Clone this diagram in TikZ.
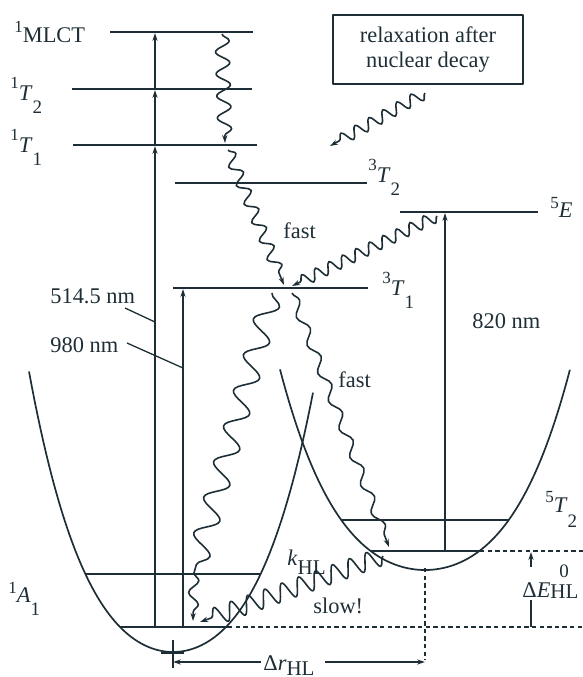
\documentclass[tikz,border=0pt]{standalone}
\usepackage{fontspec}
\setmainfont{Liberation Serif}
\usetikzlibrary{decorations.pathmorphing,arrows.meta}
\definecolor{ink}{HTML}{1E2E36}
\newcommand{\psup}[2][6pt]{\raisebox{#1}{\fontsize{8.5}{9}\selectfont #2}}
\newcommand{\psub}[2][-6.5pt]{\raisebox{#1}{\fontsize{9.5}{10}\selectfont #2}}
\newcommand{\hlsub}[1][-4.5pt]{\raisebox{#1}{\fontsize{10.5}{11}\selectfont HL}}
\begin{document}
\begin{tikzpicture}[x=0.5pt,y=-0.5pt,line join=round,
  every node/.style={text=ink,inner sep=0pt,font=\fontsize{11.2}{12.5}\selectfont},
  lbl/.style={anchor=base west},
  lvl/.style={draw=ink,line width=1.1pt},
  pes/.style={draw=ink,line width=0.85pt},
  thn/.style={draw=ink,line width=0.65pt},
  dsh/.style={draw=ink,line width=0.75pt,dash pattern=on 2.2pt off 1.6pt},
  arr/.style={draw=ink,line width=0.75pt,-{Stealth[length=4pt,width=2.6pt]}},
  wv/.style n args={2}{draw=ink,line width=0.8pt,decorate,
     decoration={snake,amplitude=#1,segment length=#2,post length=2.5pt},
     -{Stealth[length=4pt,width=2.6pt]}}]
\useasboundingbox (0,0) rectangle (583,677);

% energy levels
\draw[lvl] (110,32) -- (253,32);
\draw[lvl] (72,89) -- (252,89);
\draw[lvl] (73,145) -- (257,145);
\draw[lvl] (175,183) -- (367,183);
\draw[lvl] (400,212) -- (538,212);
\draw[lvl] (173,288) -- (368,288);

% 1A1 potential
\draw[pes] plot[domain=-1.44:1.40,samples=100] ({173+100*\x},{652-81.8*\x*\x-25.78*\x*\x*\x*\x});
\draw[lvl] (85,574) -- (261,574);
\draw[lvl] (120,627) -- (228,627);
% 5T2 potential
\draw[pes] plot[domain=-1.45:1.45,samples=100] ({425+100*\x},{570-59.25*\x*\x-17.2*\x*\x*\x*\x});
\draw[lvl] (342,520) -- (508,520);
\draw[lvl] (371,551) -- (480,551);

% dashed guides
\draw[dsh] (480,551) -- (583,551);
\draw[dsh] (228,627) -- (583,627);
\draw[dsh] (425,568) -- (425,660);

% bottom tick
\draw[ink,line width=1.3pt] (161,653) -- (184,653);
\draw[thn] (173,640) -- (173,668);

% vertical transitions
\draw[arr] (155,627) -- (155,146);
\draw[arr] (155,146) -- (155,90);
\draw[arr] (155,90) -- (155,33);
\draw[arr] (183,627) -- (183,289);
\draw[arr] (445,551) -- (445,213);

% labels
\node[lbl] (L1) at (14,42) {\psup[5pt]{1}MLCT};
\node[lbl] (L2) at (10,100) {\psup{1}\textit{T}\psub{2}};
\node[lbl] (L3) at (10,152) {\psup{1}\textit{T}\psub{1}};
\node[lbl] (L4) at (368,182) {\psup{3}\textit{T}\psub{2}};
\node[lbl] (L5) at (550,217) {\psup[4.5pt]{5}\textit{E}};
\node[lbl] (L6) at (382,295) {\psup{3}\textit{T}\psub{1}};
\node[lbl] (L7) at (545,512) {\psup[5pt]{5}\textit{T}\psub[-7.5pt]{2}};
\node[lbl] (L8) at (8,602) {\psup[4.5pt]{1}\textit{A}\psub{1}};
\node[lbl] (fast1) at (283,238) {fast};
\node[lbl] (fast2) at (338,387) {fast};
\node[lbl] (slow) at (313,613) {slow!};
\node[lbl] (n514) at (50,303) {514.5 nm};
\node[lbl] (n980) at (50,352) {980 nm};
\node[lbl] (n820) at (472,328) {820 nm};
\node[lbl] (khl) at (287,565) {\textit{k}\hlsub};
\node[lbl] (dE) at (522,597) {Δ\textit{E}\rlap{\raisebox{10pt}{\fontsize{9.5}{10}\selectfont\hspace{4.5pt}0}}\hlsub[-0.5pt]};
\node[lbl] (dr) at (263,670) {Δ\textit{r}\hlsub[-2.5pt]};
\node[draw=ink,line width=0.9pt,minimum width=95pt,minimum height=34.5pt,align=center] (box) at (428,49.5) {relaxation after\\nuclear decay};

% leaders
\coordinate (a514) at (155,322);
\coordinate (a980) at (183,368);
\coordinate (s514) at (125,308);
\coordinate (s980) at (127,343);
\draw[thn] (s514) -- (a514);
\draw[thn] (s980) -- (a980);

% Delta E and Delta r arrows
\coordinate (dEt) at (531,552);
\coordinate (dEb) at (531,627);
\draw[arr] (531,567) -- (dEt);
\draw[thn] (531,600) -- (dEb);
\coordinate (drl) at (173,662);
\coordinate (drr) at (425,662);
\draw[arr] (261,662) -- (drl);
\draw[arr] (325,662) -- (drr);

% wavy relaxations
\coordinate (m0) at (222,34);  \coordinate (m1) at (225,143);
\coordinate (t0) at (228,150); \coordinate (t1) at (284,285);
\coordinate (b0) at (425,93);  \coordinate (b1) at (330,146);
\coordinate (e0) at (437,216); \coordinate (e1) at (292,286);
\coordinate (f0) at (272,293); \coordinate (f1) at (194,573); \coordinate (f2) at (193,621);
\coordinate (g0) at (292,293); \coordinate (g1) at (389,547);
\coordinate (k0) at (383,556); \coordinate (k1) at (200,622);
\draw[wv={3.5pt}{11pt}] (m0) -- (m1);
\draw[wv={3pt}{10pt}] (t0) -- (t1);
\draw[wv={3pt}{8pt}] (b0) -- (b1);
\draw[wv={3pt}{7.5pt}] (e0) -- (e1);
\draw[draw=ink,line width=0.8pt,decorate,decoration={snake,amplitude=5.5pt,segment length=18.5pt}] (f0) -- (f1);
\draw[wv={2.5pt}{12pt}] (f1) -- (f2);
\draw[wv={2.3pt}{15pt}] (g0) -- (g1);
\draw[wv={4.5pt}{9pt}] (k0) -- (k1);
\end{tikzpicture}
\end{document}
